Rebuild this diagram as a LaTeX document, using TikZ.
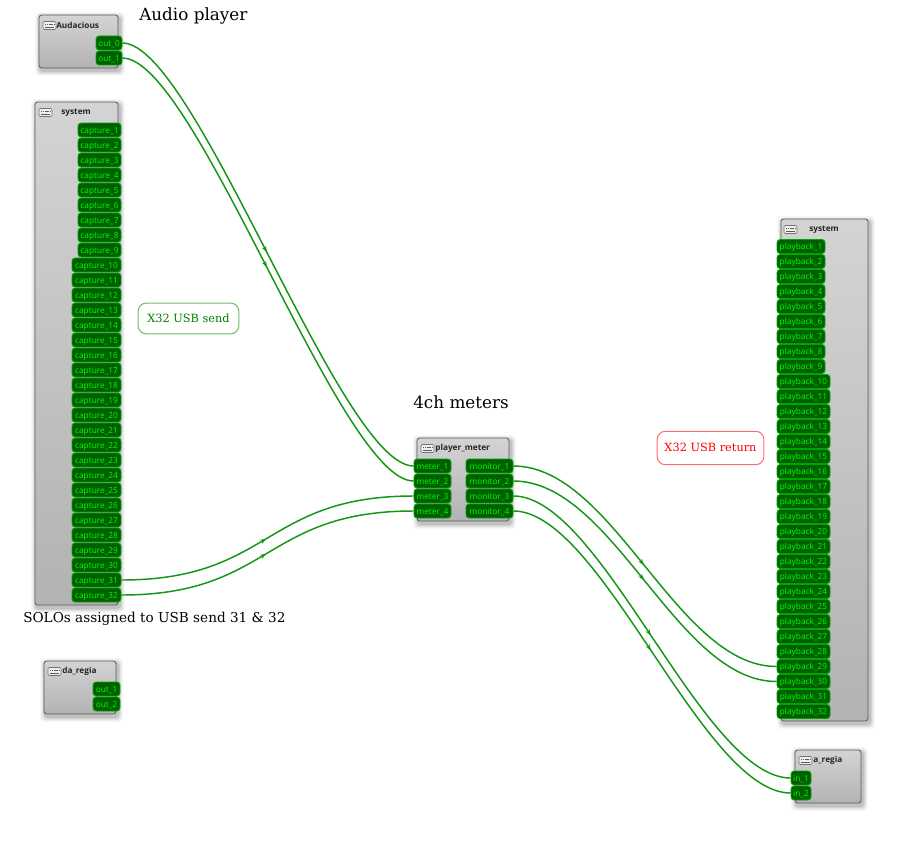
\documentclass[tikz,border=0pt]{standalone}
\usepackage{fontspec}
\setmainfont{DejaVu Serif}
\setsansfont{Noto Sans}
\newfontfamily\titlefont{Open Sans}
\usetikzlibrary{decorations.markings,arrows.meta,calc}
\definecolor{portfill}{RGB}{0,95,0}
\definecolor{portedge}{RGB}{0,165,0}
\definecolor{porttext}{RGB}{0,245,0}
\definecolor{wire}{RGB}{22,150,22}
\definecolor{boxedge}{RGB}{90,90,90}
\definecolor{sendedge}{RGB}{110,190,110}
\definecolor{retedge}{RGB}{255,110,110}
\definecolor{sendtext}{RGB}{0,128,0}
\tikzset{
  x=0.75pt,y=-0.75pt,
  client/.style={rounded corners=2pt,draw=boxedge,line width=0.6pt,top color=black!17,bottom color=black!30},
  portbox/.style={rounded corners=2.4pt,fill=portfill,draw=portedge,line width=0.7pt,text=porttext,
     font=\sffamily\fontsize{6.2}{7}\selectfont,inner sep=0pt,minimum height=10.5pt,text depth=0.3pt,text height=5.2pt},
  ctitle/.style={font=\titlefont\bfseries\fontsize{6.2}{7}\selectfont,text=black!85,inner sep=0pt,anchor=west},
  icon/.style={rounded corners=1pt,draw=black!55,fill=black!6,line width=0.4pt},
  wirestyle/.style={draw=wire,line width=1.1pt,postaction={decorate},
    decoration={markings,mark=at position 0.495 with {\arrow[wire]{Stealth[length=4.6pt,width=3.4pt]}}}},
  note/.style={font=\fontsize{10.2}{12}\selectfont,inner sep=0pt},
  boxnote/.style={font=\fontsize{8.5}{10}\selectfont,inner sep=0pt,fill=white,line width=0.75pt,rounded corners=6pt},
  bignote/.style={font=\fontsize{12.6}{14}\selectfont,inner sep=0pt},
}
% \clientbox{name}{x1}{y1}{x2}{y2}{title}{title x}{icon x}
\newcommand{\clientbox}[8]{%
  \foreach \s/\o in {5/6,4/8,3/11,2/14,1/18}{
    \fill[black,opacity=0.045*\o/10,rounded corners=3pt]
      (#2+1-\s,#3+2-\s) rectangle (#4+2+\s,#5+3+\s);}
  \path[client] (#2,#3) rectangle (#4,#5);
  \coordinate (#1) at (#2,#3);
  \node[ctitle] (#1title) at (#7,#3+10.5) {#6};
  \draw[icon] (#8,#3+6.5) rectangle (#8+13,#3+14.5);
  \draw[black!65,line width=0.3pt] (#8+2,#3+12.4) -- (#8+11,#3+12.4);
  \draw[black!65,line width=0.3pt,dash pattern=on 1pt off 0.6pt] (#8+2,#3+9) -- (#8+11,#3+9);
}
% \portnode{name}{x1}{x2}{y}{label}
\newcommand{\portnode}[5]{%
  \node[portbox,minimum width={(#3-(#2))*0.75pt},anchor=center] (#1) at ({(#2+#3)/2},#4) {#5};
}
% \wirecurve{from}{to}{handle length in px}
\newcommand{\wirecurve}[3]{%
  \draw[wirestyle] (#1.east) .. controls ($(#1.east)+(#3,0)$) and ($(#2.west)-(#3,0)$) .. (#2.west);
}
\begin{document}
\begin{tikzpicture}
\useasboundingbox (0,0) rectangle (902,849);
\fill[white] (0,0) rectangle (902,849);

% clients
\clientbox{aud}{39}{15}{118}{68}{Audacious}{56}{43}
\clientbox{sysin}{35}{102}{118}{605}{system}{61}{39}
\clientbox{darg}{44}{661}{116}{714}{da\_regia}{62}{48}
\clientbox{pm}{417}{438}{509}{521}{player\_meter}{435}{421}
\clientbox{sysout}{781}{219}{868}{721}{system}{809}{784}
\clientbox{arg}{795}{750}{861}{803}{a\_regia}{813}{799}

% Audacious
\portnode{audA}{96}{122}{43}{out\_0}
\portnode{audB}{96}{122}{58}{out\_1}

% capture ports
\foreach \i in {1,...,9}{
  \pgfmathsetmacro{\yy}{130+15*(\i-1)}
  \portnode{cap\i}{78}{121}{\yy}{capture\_\i}
}
\foreach \i in {10,...,32}{
  \pgfmathsetmacro{\yy}{130+15*(\i-1)}
  \portnode{cap\i}{72}{121}{\yy}{capture\_\i}
}

% da_regia
\portnode{daA}{93}{120}{689}{out\_1}
\portnode{daB}{93}{120}{704}{out\_2}

% player_meter
\foreach \i in {1,...,4}{
  \pgfmathsetmacro{\yy}{466+15*(\i-1)}
  \portnode{met\i}{414}{451}{\yy}{meter\_\i}
  \portnode{mon\i}{466}{513}{\yy}{monitor\_\i}
}

% playback ports
\foreach \i in {1,...,9}{
  \pgfmathsetmacro{\yy}{246.5+15*(\i-1)}
  \portnode{pb\i}{777}{825}{\yy}{playback\_\i}
}
\foreach \i in {10,...,32}{
  \pgfmathsetmacro{\yy}{246.5+15*(\i-1)}
  \portnode{pb\i}{777}{830}{\yy}{playback\_\i}
}

% a_regia
\portnode{inA}{791}{811}{778}{in\_1}
\portnode{inB}{791}{811}{793}{in\_2}

% connectors
\wirecurve{audA}{met1}{73}
\wirecurve{audB}{met2}{73}
\wirecurve{cap31}{met3}{150}
\wirecurve{cap32}{met4}{150}
\wirecurve{mon1}{pb29}{100}
\wirecurve{mon2}{pb30}{100}
\wirecurve{mon3}{inA}{88}
\wirecurve{mon4}{inB}{88}

% texts
\node[bignote,anchor=west] (tplayer) at (139,15.5) {Audio player};
\node[bignote,anchor=west] (tmeters) at (413,402.5) {4ch meters};
\node[note,anchor=west] (tsolo) at (23,618.5) {SOLOs assigned to USB send 31 \& 32};
\node[boxnote,text=sendtext,draw=sendedge,minimum width=75.5pt,minimum height=23pt] (tsend) at (188.5,318.5) {\raisebox{1.2pt}{X32 USB send}};
\node[boxnote,text=red,draw=retedge,minimum width=80pt,minimum height=25pt] (tret) at (710.5,448) {\raisebox{1.2pt}{X32 USB return}};
\end{tikzpicture}
\end{document}
